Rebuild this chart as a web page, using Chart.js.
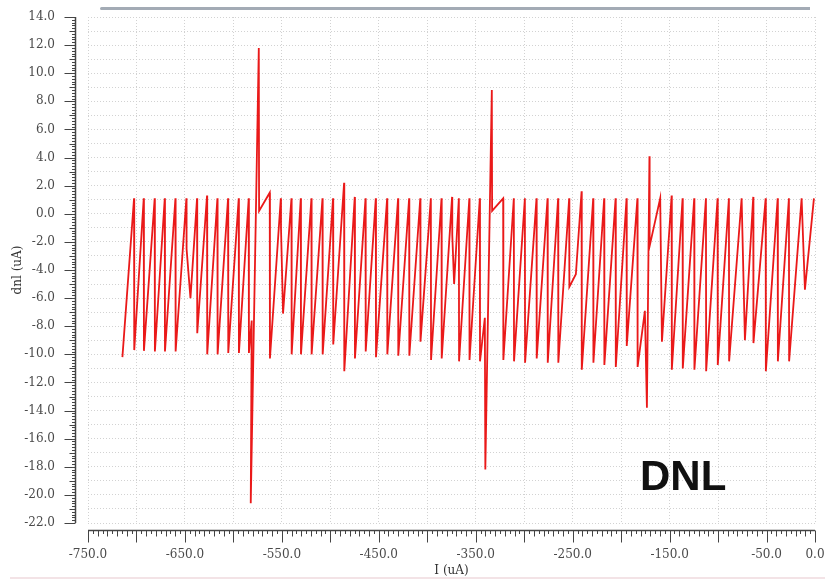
<!DOCTYPE html>
<html>
<head>
    <title>DNL</title>
    <script src="https://cdn.jsdelivr.net/npm/chart.js"></script>
    <style>
        body { margin: 0; background: #fff; }
        .wrap { position: relative; width: 825px; height: 581px; }
        .topbar { position: absolute; left: 100px; top: 7px; width: 710px; height: 3px;
                  background: #a3abb5; border-radius: 3px 0 0 3px; }
        .baseline { position: absolute; left: 10px; top: 577px; width: 815px; height: 2px; background: #f3e3e6; }
        .tag { position: absolute; left: 640px; top: 455px; font: bold 42px "Liberation Sans", Arial, sans-serif;
               line-height: 42px; color: #111; }
    </style>
</head>
<body>
    <div class="wrap">
        <canvas id="dnl-chart" width="825" height="581"></canvas>
        <div class="topbar"></div>
        <div class="baseline"></div>
        <div class="tag">DNL</div>
    </div>

    <script>
        // sawtooth vertices: current (uA) and dnl (uA)
        const currentUA = [
            -714.5, -702.5, -702.3, -692.5, -692.3, -681.2, -681.0, -670.8, -670.6, -659.8, -659.6,
            -648.5, -648.3, -644.3, -637.5, -637.3, -627.2, -627.0, -616.5, -616.3, -605.5, -605.3,
            -594.5, -594.3, -584.2, -584.0, -581.1, -582.1, -573.8, -573.5, -562.5, -562.3,
            -551.1, -550.9, -548.8, -540.1, -539.9, -530.5, -530.3, -519.5, -519.3, -508.1, -507.9,
            -497.2, -497.0, -485.8, -485.6, -474.8, -474.6, -463.7, -463.5, -453.1, -452.9,
            -441.4, -441.2, -430.1, -429.9, -418.7, -418.5, -407.2, -407.0, -396.3, -396.1,
            -385.3, -385.1, -374.4, -374.2, -372.3, -367.4, -367.2, -356.6, -356.4, -345.8, -345.6,
            -340.6, -340.1, -333.4, -333.1, -321.7, -321.5, -310.7, -310.5, -299.3, -299.1,
            -287.3, -287.1, -275.9, -275.7, -265.0, -264.8, -253.6, -253.4, -246.7, -240.8, -240.6,
            -228.8, -228.6, -217.5, -217.3, -205.7, -205.5, -194.4, -194.2, -183.2, -183.0,
            -175.5, -173.4, -170.8, -170.6, -159.7, -157.9, -147.9, -147.7, -136.6, -136.4,
            -124.6, -124.4, -112.5, -112.3, -100.5, -100.3, -88.8, -88.6, -75.7, -72.3,
            -63.7, -63.5, -50.9, -50.7, -38.5, -38.3, -26.9, -26.7, -13.8, -10.4, -1.1
        ];
        const dnlUA = [
            -10.2, 1.1, -9.7, 1.1, -9.75, 1.1, -9.8, 1.1, -9.8, 1.1, -9.8,
            1.1, -2.5, -6.0, 1.1, -8.5, 1.3, -10.0, 1.1, -10.0, 1.1, -9.9,
            1.1, -9.9, 1.1, -9.9, -7.6, -20.6, 11.8, 0.2, 1.5, -10.3,
            1.1, -1.0, -7.1, 1.1, -10.0, 1.1, -10.0, 1.1, -10.0, 1.1, -10.0,
            1.1, -9.3, 2.2, -11.2, 1.2, -10.3, 1.1, -9.8, 1.1, -10.2,
            1.1, -10.0, 1.1, -10.1, 1.1, -10.1, 1.1, -9.1, 1.1, -10.4,
            1.1, -10.3, 1.2, -1.5, -5.0, 1.1, -10.5, 1.1, -10.4, 1.1, -10.5,
            -7.4, -18.2, 8.8, 0.2, 1.1, -10.4, 1.1, -10.5, 1.1, -10.6,
            1.1, -10.3, 1.1, -10.6, 1.1, -10.6, 1.1, -5.2, -4.3, 1.6, -11.1,
            1.1, -10.6, 1.1, -10.75, 1.1, -10.9, 1.1, -9.4, 1.1, -10.9,
            -6.9, -13.8, 4.1, -2.3, 1.1, -9.1, 1.3, -11.1, 1.1, -11.0,
            1.1, -11.1, 1.1, -11.2, 1.1, -10.75, 1.1, -10.5, 1.1, -9.0,
            1.2, -9.2, 1.1, -11.2, 1.1, -10.5, 1.1, -10.5, 1.1, -5.4, 1.1
        ];
        const xLabelValues = [-750, -650, -550, -450, -350, -250, -150, -50, 0];
        const yLabelStep = 2;

        const labelFont = { family: 'DejaVu Serif', size: 12 };

        // ruler style tick marks outside the plot, like the simulator's axes
        const rulers = {
            id: 'rulers',
            afterDraw(chart) {
                const { ctx, scales: { x, y } } = chart;
                ctx.save();
                ctx.strokeStyle = '#444';

                const rx = 75.5;
                ctx.lineWidth = 1.5;
                ctx.beginPath();
                ctx.moveTo(rx, y.getPixelForValue(14));
                ctx.lineTo(rx, y.getPixelForValue(-22));
                ctx.stroke();
                ctx.lineWidth = 1;
                for (let i = 0; i <= 180; i++) {
                    const py = Math.round(y.getPixelForValue(-22 + i * 0.2)) + 0.5;
                    const len = i % 10 === 0 ? 11 : (i % 5 === 0 ? 6 : 3.5);
                    ctx.beginPath();
                    ctx.moveTo(rx, py);
                    ctx.lineTo(rx - len, py);
                    ctx.stroke();
                }

                const ry = 530.5;
                ctx.lineWidth = 1.5;
                ctx.beginPath();
                ctx.moveTo(x.getPixelForValue(-750), ry);
                ctx.lineTo(x.getPixelForValue(0), ry);
                ctx.stroke();
                ctx.lineWidth = 1;
                for (let i = 0; i <= 150; i++) {
                    const px = Math.round(x.getPixelForValue(-750 + i * 5)) + 0.5;
                    const len = i % 10 === 0 ? 12 : (i % 2 === 0 ? 6 : 3.5);
                    ctx.beginPath();
                    ctx.moveTo(px, ry);
                    ctx.lineTo(px, ry + len);
                    ctx.stroke();
                }
                ctx.restore();
            }
        };

        new Chart(document.getElementById('dnl-chart'), {
            type: 'scatter',
            data: {
                datasets: [{
                    data: currentUA.map((v, i) => ({ x: v, y: dnlUA[i] })),
                    showLine: true,
                    borderColor: 'rgba(232, 0, 0, 0.9)',
                    borderWidth: 1.8,
                    pointRadius: 0,
                    tension: 0
                }]
            },
            options: {
                responsive: false,
                animation: false,
                layout: { padding: { top: 17, right: 10, left: 0, bottom: 0 } },
                plugins: { legend: { display: false }, tooltip: { enabled: false } },
                scales: {
                    x: {
                        type: 'linear',
                        min: -750,
                        max: 0,
                        afterFit(s) { s.height = 58; s.paddingLeft = 0; s.paddingRight = 0; },
                        grid: { color: '#d2d2d2', lineWidth: 1, drawTicks: false },
                        border: { display: false, dash: [1, 2] },
                        ticks: {
                            stepSize: 50,
                            autoSkip: false,
                            maxRotation: 0,
                            padding: 25,
                            color: '#4a4a4a',
                            font: labelFont,
                            callback: v => xLabelValues.includes(v) ? v.toFixed(1) : ''
                        },
                        title: {
                            display: true, text: 'I (uA)', color: '#333', font: labelFont,
                            padding: { top: 0, bottom: 3 }
                        }
                    },
                    y: {
                        min: -22,
                        max: 14,
                        afterFit(s) { s.width = 88; s.paddingTop = 0; s.paddingBottom = 0; },
                        grid: { color: '#d2d2d2', lineWidth: 1, drawTicks: false },
                        border: { display: false, dash: [1, 2] },
                        ticks: {
                            stepSize: 1,
                            autoSkip: false,
                            padding: 33,
                            color: '#4a4a4a',
                            font: labelFont,
                            callback: v => v % yLabelStep === 0 ? v.toFixed(1) : ''
                        },
                        title: {
                            display: true, text: 'dnl (uA)', color: '#333', font: labelFont,
                            padding: { top: 11, bottom: 0 }
                        }
                    }
                }
            },
            plugins: [rulers]
        });
    </script>
</body>
</html>
